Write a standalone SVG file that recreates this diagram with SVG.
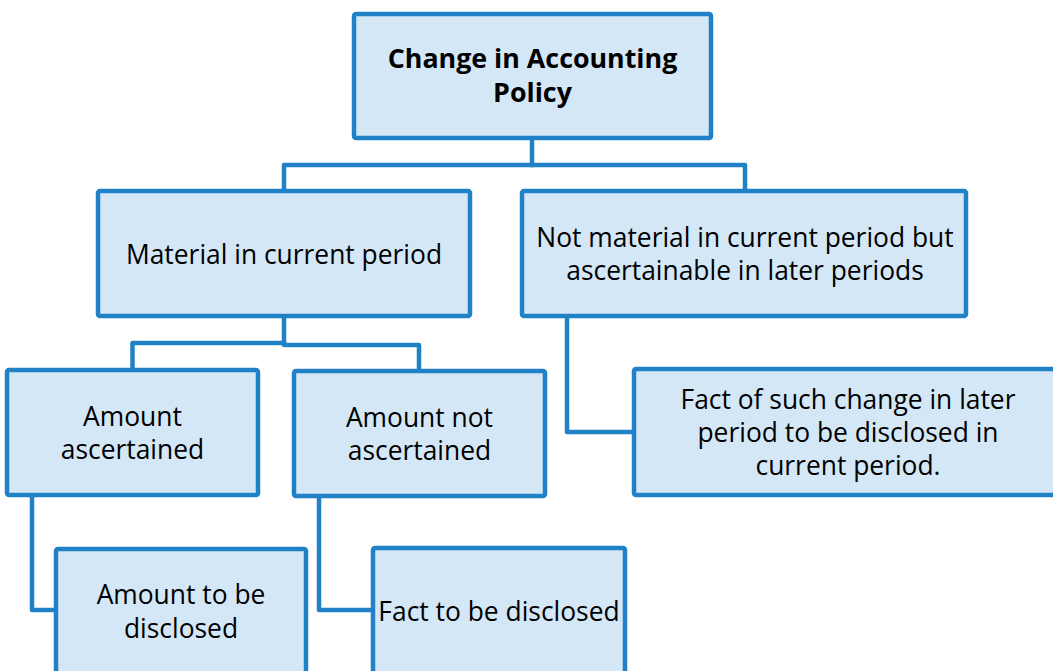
<svg xmlns="http://www.w3.org/2000/svg" width="1053" height="671" viewBox="0 0 1053 671">
<style>
.box{fill:#D4E7F6;stroke:#2181C6;stroke-width:4.5;stroke-linejoin:round}
.con{fill:none;stroke:#2181C6;stroke-width:4.5;stroke-linejoin:round;stroke-linecap:square}
text{font-family:"Open Sans","Noto Sans","Liberation Sans",sans-serif;font-size:26.4px;fill:#000;text-anchor:middle}
.b{font-weight:bold;font-size:26.8px}
</style>
<rect width="1053" height="671" fill="#fff"/>
<g id="connectors">
<polyline class="con" points="532,138 532,165"/>
<polyline class="con" points="284,191 284,165 745,165 745,191"/>
<polyline class="con" points="284,316 284,343 132.5,343 132.5,370"/>
<polyline class="con" points="284,343 284,345 419,345 419,371"/>
<polyline class="con" points="567,316 567,432 634,432"/>
<polyline class="con" points="32,495 32,610 56,610"/>
<polyline class="con" points="319,496 319,610 373,610"/>
</g>
<g id="n-root">
<rect class="box" x="354" y="14" width="357" height="124" rx="2"/>
<text class="b" x="532.5" y="68">Change in Accounting</text>
<text class="b" x="532.5" y="102">Policy</text>
</g>
<g id="n-material">
<rect class="box" x="98" y="191" width="372" height="125" rx="2"/>
<text x="284" y="264">Material in current period</text>
</g>
<g id="n-notmaterial">
<rect class="box" x="522" y="191" width="444" height="125" rx="2"/>
<text x="745" y="247">Not material in current period but</text>
<text x="745" y="280">ascertainable in later periods</text>
</g>
<g id="n-ascertained">
<rect class="box" x="7" y="370" width="251" height="125" rx="2"/>
<text x="132.5" y="426">Amount</text>
<text x="132.5" y="459">ascertained</text>
</g>
<g id="n-notascertained">
<rect class="box" x="294" y="371" width="251" height="125" rx="2"/>
<text x="419.5" y="427">Amount not</text>
<text x="419.5" y="460">ascertained</text>
</g>
<g id="n-factchange">
<rect class="box" x="634" y="369" width="428" height="126" rx="2"/>
<text x="848" y="409">Fact of such change in later</text>
<text x="848" y="442">period to be disclosed in</text>
<text x="848" y="475">current period.</text>
</g>
<g id="n-amountdisclosed">
<rect class="box" x="56" y="549" width="250" height="150" rx="2"/>
<text x="181" y="604">Amount to be</text>
<text x="181" y="638">disclosed</text>
</g>
<g id="n-factdisclosed">
<rect class="box" x="373" y="548" width="252" height="150" rx="2"/>
<text x="499" y="621">Fact to be disclosed</text>
</g>
</svg>
